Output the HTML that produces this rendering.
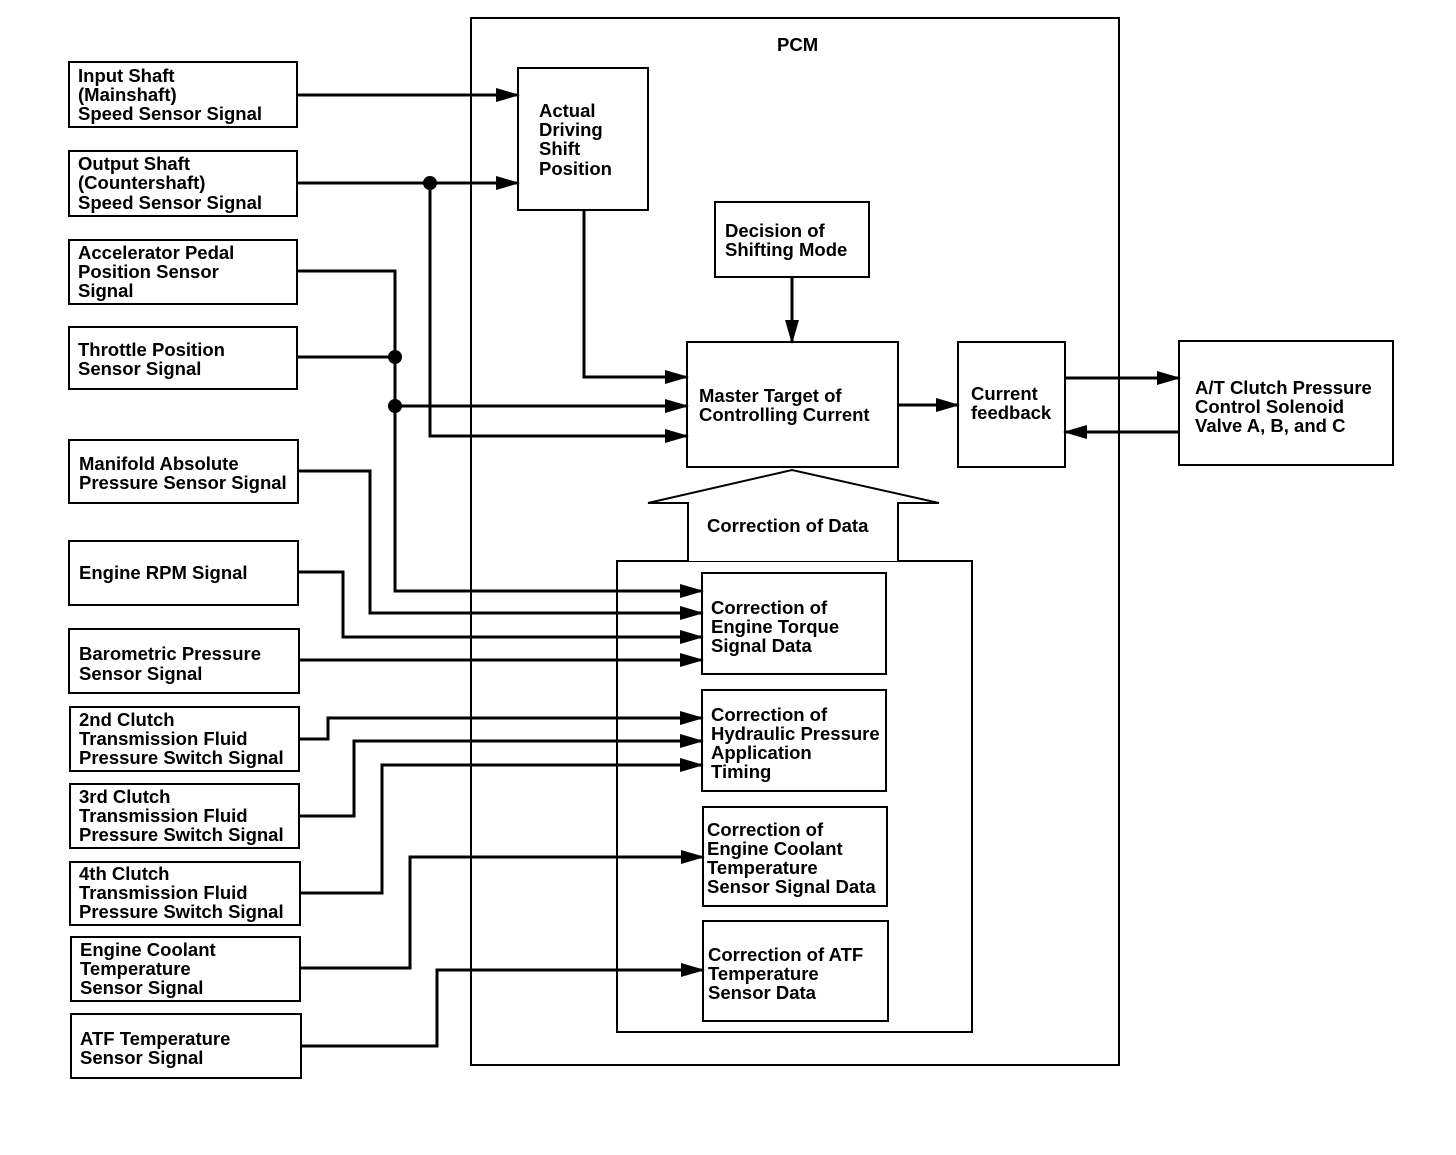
<!DOCTYPE html>
<html><head><meta charset="utf-8"><style>
html,body{margin:0;padding:0;background:#fff}
svg text{font-family:"Liberation Sans",Arial,sans-serif;font-weight:bold;font-size:18.5px;fill:#000}
</style></head><body>
<svg width="1456" height="1150" viewBox="0 0 1456 1150" xmlns="http://www.w3.org/2000/svg">
<defs><marker id="b" markerWidth="24" markerHeight="14" refX="22" refY="7" orient="auto" markerUnits="userSpaceOnUse"><path d="M0,0 L24,7 L0,14 z" fill="#000"/></marker></defs>
<g fill="none" stroke="#000" stroke-width="2">
<rect x="471" y="18" width="648" height="1047"/>
<rect x="69" y="62" width="228" height="65"/>
<rect x="69" y="151" width="228" height="65"/>
<rect x="69" y="240" width="228" height="64"/>
<rect x="69" y="327" width="228" height="62"/>
<rect x="69" y="440" width="229" height="63"/>
<rect x="69" y="541" width="229" height="64"/>
<rect x="69" y="629" width="230" height="64"/>
<rect x="70" y="707" width="229" height="64"/>
<rect x="70" y="784" width="229" height="64"/>
<rect x="70" y="862" width="230" height="63"/>
<rect x="71" y="937" width="229" height="64"/>
<rect x="71" y="1014" width="230" height="64"/>
<rect x="518" y="68" width="130" height="142"/>
<rect x="715" y="202" width="154" height="75"/>
<rect x="687" y="342" width="211" height="125"/>
<rect x="958" y="342" width="107" height="125"/>
<rect x="1179" y="341" width="214" height="124"/>
<rect x="617" y="561" width="355" height="471"/>
<rect x="702" y="573" width="184" height="101"/>
<rect x="702" y="690" width="184" height="101"/>
<rect x="703" y="807" width="184" height="99"/>
<rect x="703" y="921" width="185" height="100"/>
<path d="M688,561 L688,503 L648,503 L792,470 L939,503 L898,503 L898,561" fill="#fff"/>
</g>
<g fill="none" stroke="#000" stroke-width="3" marker-end="url(#b)">
<path d="M297,95 H518"/>
<path d="M297,183 H518"/>
<path d="M430,183 V436 H687"/>
<path d="M297,271 H395 V591 H702"/>
<path d="M395,406 H687"/>
<path d="M584,210 V377 H687"/>
<path d="M792,277 V342"/>
<path d="M898,405 H958"/>
<path d="M1065,378 H1179"/>
<path d="M1179,432 H1065"/>
<path d="M297,471 H370 V613 H702"/>
<path d="M298,572 H343 V637 H702"/>
<path d="M299,660 H702"/>
<path d="M299,739 H328 V718 H702"/>
<path d="M299,816 H354 V741 H702"/>
<path d="M300,893 H382 V765 H702"/>
<path d="M300,968 H410 V857 H703"/>
<path d="M301,1046 H437 V970 H703"/>
</g>
<path d="M297,357 H395" stroke="#000" stroke-width="3"/>
<circle cx="430" cy="183" r="7"/><circle cx="395" cy="357" r="7"/><circle cx="395" cy="406" r="7"/>
<text x="777" y="51">PCM</text>
<text x="78" y="82">Input Shaft</text><text x="78" y="101">(Mainshaft)</text><text x="78" y="120">Speed Sensor Signal</text>
<text x="78" y="170">Output Shaft</text><text x="78" y="189">(Countershaft)</text><text x="78" y="209">Speed Sensor Signal</text>
<text x="78" y="259">Accelerator Pedal</text><text x="78" y="278">Position Sensor</text><text x="78" y="297">Signal</text>
<text x="78" y="356">Throttle Position</text><text x="78" y="375">Sensor Signal</text>
<text x="79" y="470">Manifold Absolute</text><text x="79" y="489">Pressure Sensor Signal</text>
<text x="79" y="579">Engine RPM Signal</text>
<text x="79" y="660">Barometric Pressure</text><text x="79" y="680">Sensor Signal</text>
<text x="79" y="726">2nd Clutch</text><text x="79" y="745">Transmission Fluid</text><text x="79" y="764">Pressure Switch Signal</text>
<text x="79" y="803">3rd Clutch</text><text x="79" y="822">Transmission Fluid</text><text x="79" y="841">Pressure Switch Signal</text>
<text x="79" y="880">4th Clutch</text><text x="79" y="899">Transmission Fluid</text><text x="79" y="918">Pressure Switch Signal</text>
<text x="80" y="956">Engine Coolant</text><text x="80" y="975">Temperature</text><text x="80" y="994">Sensor Signal</text>
<text x="80" y="1045">ATF Temperature</text><text x="80" y="1064">Sensor Signal</text>
<text x="539" y="117">Actual</text><text x="539" y="136">Driving</text><text x="539" y="155">Shift</text><text x="539" y="175">Position</text>
<text x="725" y="237">Decision of</text><text x="725" y="256">Shifting Mode</text>
<text x="699" y="402">Master Target of</text><text x="699" y="421">Controlling Current</text>
<text x="971" y="400">Current</text><text x="971" y="419">feedback</text>
<text x="1195" y="394">A/T Clutch Pressure</text><text x="1195" y="413">Control Solenoid</text><text x="1195" y="432">Valve A, B, and C</text>
<text x="707" y="532">Correction of Data</text>
<text x="711" y="614">Correction of</text><text x="711" y="633">Engine Torque</text><text x="711" y="652">Signal Data</text>
<text x="711" y="721">Correction of</text><text x="711" y="740">Hydraulic Pressure</text><text x="711" y="759">Application</text><text x="711" y="778">Timing</text>
<text x="707" y="836">Correction of</text><text x="707" y="855">Engine Coolant</text><text x="707" y="874">Temperature</text><text x="707" y="893">Sensor Signal Data</text>
<text x="708" y="961">Correction of ATF</text><text x="708" y="980">Temperature</text><text x="708" y="999">Sensor Data</text>
</svg>
</body></html>
